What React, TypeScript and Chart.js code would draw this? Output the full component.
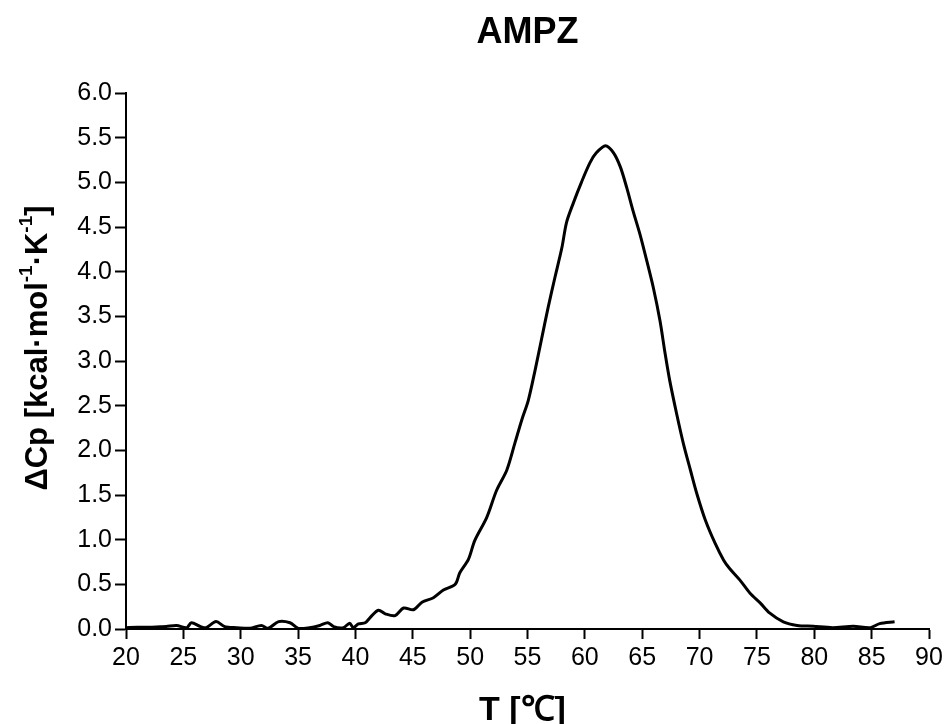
import React, { useEffect, useRef } from "react";
import { Chart, registerables } from "chart.js";

Chart.register(...registerables);

const CHART_TITLE = "AMPZ";
const X_TITLE = "T [℃]";
const Y_TITLE_PARTS = [
  { text: "ΔCp [kcal·mol", sup: false },
  { text: "-1", sup: true },
  { text: "·K", sup: false },
  { text: "-1", sup: true },
  { text: "]", sup: false },
];

const X_TICKS = [20, 25, 30, 35, 40, 45, 50, 55, 60, 65, 70, 75, 80, 85, 90];
const Y_TICKS = [0, 0.5, 1, 1.5, 2, 2.5, 3, 3.5, 4, 4.5, 5, 5.5, 6];

const TEMPERATURE = [
  20.0, 21.0, 22.0, 23.0, 23.5, 24.4, 25.3, 25.7, 26.5, 27.0, 27.85, 28.6,
  29.65, 30.8, 31.8, 32.4, 33.3, 34.3, 35.0, 36.0, 36.9, 37.6, 38.1, 38.95,
  39.5, 39.8, 40.26, 40.85, 41.3, 42.0, 42.6, 43.46, 44.2, 45.06, 45.8, 46.8,
  47.67, 48.7, 49.1, 49.85, 50.4, 51.45, 52.3, 53.2, 53.9, 54.5, 55.07, 55.65,
  56.2, 56.8, 57.4, 58.0, 58.4, 59.0, 59.7, 60.45, 61.0, 61.8, 62.5, 63.1,
  63.65, 64.2, 64.8, 65.4, 65.97, 66.55, 67.0, 67.4, 68.0, 68.6, 69.2, 69.75,
  70.5, 71.35, 72.1, 72.6, 73.5, 74.4, 75.3, 76.1, 77.3, 78.5, 79.9, 81.6,
  83.4, 84.9, 85.7, 87.0,
];

const DELTA_CP = [
  0.015, 0.02, 0.02, 0.025, 0.027, 0.04, 0.015, 0.07, 0.027, 0.015, 0.083, 0.027,
  0.015, 0.008, 0.04, 0.008, 0.083, 0.07, 0.008, 0.015, 0.04, 0.07, 0.027, 0.015,
  0.065, 0.015, 0.057, 0.07, 0.13, 0.21, 0.17, 0.15, 0.235, 0.216, 0.3, 0.35,
  0.436, 0.5, 0.63, 0.78, 0.99, 1.25, 1.55, 1.78, 2.08, 2.34, 2.56, 2.89,
  3.23, 3.6, 3.94, 4.27, 4.55, 4.77, 5.0, 5.22, 5.33, 5.41, 5.33, 5.17,
  4.94, 4.68, 4.42, 4.12, 3.82, 3.45, 3.08, 2.78, 2.41, 2.07, 1.78, 1.52,
  1.22, 0.96, 0.77, 0.68, 0.55, 0.4, 0.29, 0.18, 0.08, 0.04, 0.03, 0.015,
  0.03, 0.015, 0.06, 0.08,
];

const FONT = "'Liberation Sans', Arial, Helvetica, sans-serif";

const titlesPlugin = {
  id: "customTitles",
  afterDraw(chart: any) {
    const ctx = chart.ctx as CanvasRenderingContext2D;
    const { left, right, top, bottom } = chart.chartArea;
    const cx = (left + right) / 2;
    ctx.save();
    ctx.fillStyle = "#000";
    // main title
    ctx.font = `bold 36px ${FONT}`;
    ctx.textAlign = "center";
    ctx.textBaseline = "alphabetic";
    ctx.fillText(CHART_TITLE, cx, 43);
    // x title
    ctx.font = `bold 34px ${FONT}`;
    ctx.fillText(X_TITLE, cx - 5, 720);
    // y title with superscripts
    const mainFont = `bold 31px ${FONT}`;
    const supFont = `bold 19px ${FONT}`;
    let total = 0;
    const widths = Y_TITLE_PARTS.map((p) => {
      ctx.font = p.sup ? supFont : mainFont;
      const w = ctx.measureText(p.text).width;
      total += w;
      return w;
    });
    const cy = (top + bottom) / 2 - 13;
    ctx.translate(47, cy);
    ctx.rotate(-Math.PI / 2);
    ctx.textAlign = "left";
    let x = -total / 2;
    Y_TITLE_PARTS.forEach((p, i) => {
      ctx.font = p.sup ? supFont : mainFont;
      ctx.fillText(p.text, x, p.sup ? -15 : 0);
      x += widths[i];
    });
    ctx.restore();
  },
};

export default function App() {
  const canvasRef = useRef<HTMLCanvasElement | null>(null);

  useEffect(() => {
    if (!canvasRef.current) return;
    const points = TEMPERATURE.map((t, i) => ({ x: t, y: DELTA_CP[i] }));
    const chart = new Chart(canvasRef.current, {
      type: "line",
      data: {
        datasets: [
          {
            label: "AMPZ",
            data: points,
            borderColor: "#000",
            borderWidth: 3,
            pointRadius: 0,
            tension: 0.3,
            fill: false,
            clip: false as any,
          },
        ],
      },
      plugins: [titlesPlugin],
      options: {
        responsive: false,
        animation: false,
        layout: { padding: { left: 0, top: 93, right: 18, bottom: 0 } },
        plugins: {
          legend: { display: false },
          title: { display: false },
          tooltip: { enabled: false },
        },
        scales: {
          x: {
            type: "linear",
            min: X_TICKS[0],
            max: X_TICKS[X_TICKS.length - 1],
            afterBuildTicks: (scale: any) => {
              scale.ticks = X_TICKS.map((v) => ({ value: v }));
            },
            afterFit: (scale: any) => {
              scale.height = 95;
            },
            ticks: {
              color: "#000",
              font: { family: FONT, size: 25 },
              padding: 4,
              maxRotation: 0,
              autoSkip: false,
              callback: (v: any) => String(v),
            },
            grid: {
              drawOnChartArea: false,
              drawTicks: true,
              tickLength: 10,
              tickWidth: 2,
              tickColor: "#000",
            },
            border: { display: true, color: "#000", width: 2 },
          },
          y: {
            type: "linear",
            min: Y_TICKS[0],
            max: Y_TICKS[Y_TICKS.length - 1],
            afterBuildTicks: (scale: any) => {
              scale.ticks = Y_TICKS.map((v) => ({ value: v }));
            },
            afterFit: (scale: any) => {
              scale.width = 126;
            },
            ticks: {
              color: "#000",
              font: { family: FONT, size: 25 },
              padding: 3,
              autoSkip: false,
              callback: (v: any) => Number(v).toFixed(1),
            },
            grid: {
              drawOnChartArea: false,
              drawTicks: true,
              tickLength: 11,
              tickWidth: 2,
              tickColor: "#000",
            },
            border: { display: true, color: "#000", width: 2 },
          },
        },
      },
    });
    return () => chart.destroy();
  }, []);

  return (
    <div style={{ position: "fixed", left: 0, top: 0, width: 947, height: 724, background: "#fff" }}>
      <canvas ref={canvasRef} width={947} height={724} style={{ display: "block" }} />
    </div>
  );
}
